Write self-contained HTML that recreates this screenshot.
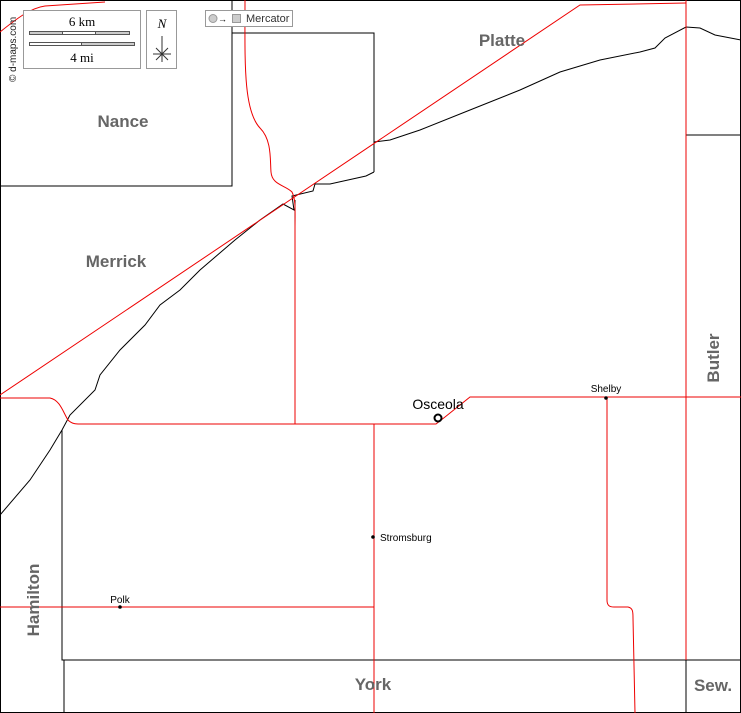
<!DOCTYPE html>
<html><head><meta charset="utf-8"><style>
body{margin:0;background:#fff}
svg{display:block;font-family:"Liberation Sans",sans-serif}
.l{font-weight:bold;fill:#666;font-size:17px;text-anchor:middle}
</style></head><body>
<svg width="741" height="713" viewBox="0 0 741 713">
<rect x="0.5" y="0.5" width="740" height="712" fill="#fff" stroke="#000"/>
<g fill="none" stroke="#000" stroke-width="1">
<polyline points="232,0 232,186 0,186"/>
<polyline points="232,33 374,33 374,172"/>
<polyline points="374,142 390,140 420,130 470,110 520,90 560,72 600,60 640,52 655,48 665,38 686,27 700,28 715,35 741,40"/>
<polyline points="374,172 366,176 330,184 315,184 313,191 292,196 294,210 283,204 260,220 235,240 200,270 180,290 160,305 145,325 120,350 100,375 95,390 70,415 62,430 50,450 30,480 0,515"/>
<polyline points="295,200 295,424"/>
<polyline points="62,430 62,660 741,660"/>
<polyline points="374,424 374,713"/>
<polyline points="64,660 64,713"/>
<polyline points="686,0 686,713"/>
<polyline points="686,135 741,135"/>
</g>
<g fill="none" stroke="#e00" stroke-width="1">
<polyline points="0,395 580,5 686,3"/>
<path d="M0,32 C15,20 30,8 45,6 L105,2"/>
<path d="M245,0 C245,60 243,110 260,128 C272,140 270,160 271,172 C272,185 285,185 292,192 C296,200 295,210 295,230 L295,424"/>
<path d="M0,398 L50,398 C60,400 63,412 68,420 C72,424 76,424 80,424 L436,424 L445,417 L470,397 L741,397"/>
<path d="M607,397 L607,600 C607,606 610,607 614,607 L628,607 C633,608 633,612 633,618 L635,713"/>
<polyline points="374,424 374,713"/>
<polyline points="0,607 374,607"/>
<polyline points="686,0 686,660"/>
</g>
<g stroke="#999" fill="#fff">
<rect x="23.5" y="10.5" width="117" height="58"/>
<rect x="146.5" y="10.5" width="30" height="58"/>
<rect x="205.5" y="10.5" width="87" height="16"/>
<rect x="29.5" y="31.5" width="100" height="3" fill="#ccc" stroke="#555"/>
<rect x="62.5" y="31.5" width="33" height="3" fill="#fff" stroke="#555"/>
<rect x="29.5" y="42.5" width="105" height="3" fill="#ccc" stroke="#555"/>
<rect x="29.5" y="42.5" width="52" height="3" fill="#fff" stroke="#555"/>
<circle cx="213" cy="18.5" r="4" fill="#ccc"/>
<rect x="232.5" y="14.5" width="8" height="8" fill="#ccc"/>
</g>
<text x="82" y="26" font-family="Liberation Serif" font-size="13" text-anchor="middle">6 km</text>
<text x="82" y="62" font-family="Liberation Serif" font-size="13" text-anchor="middle">4 mi</text>
<text x="162" y="28" font-family="Liberation Serif" font-style="italic" font-size="13" text-anchor="middle">N</text>
<g stroke="#333"><line x1="162" y1="36" x2="162" y2="62"/><line x1="153" y1="54" x2="171" y2="54"/><line x1="156" y1="48" x2="168" y2="60"/><line x1="168" y1="48" x2="156" y2="60"/></g>
<text x="218" y="22" font-size="9">→</text>
<text x="246" y="22" font-size="11" fill="#333">Mercator</text>
<text transform="translate(16,82) rotate(-90)" font-size="10" fill="#222">© d-maps.com</text>
<text class="l" x="123" y="127">Nance</text>
<text class="l" x="502" y="46">Platte</text>
<text class="l" x="116" y="267">Merrick</text>
<text class="l" x="373" y="690">York</text>
<text class="l" x="713" y="691">Sew.</text>
<text class="l" transform="translate(719,358) rotate(-90)">Butler</text>
<text class="l" transform="translate(39,600) rotate(-90)">Hamilton</text>
<circle cx="438" cy="418" r="3.5" fill="#fff" stroke="#000" stroke-width="2"/>
<text x="438" y="409" font-size="14" text-anchor="middle">Osceola</text>
<circle cx="606" cy="398" r="1.8"/><text x="606" y="392" font-size="10" text-anchor="middle">Shelby</text>
<circle cx="373" cy="537" r="1.8"/><text x="380" y="541" font-size="10">Stromsburg</text>
<circle cx="120" cy="607" r="1.8"/><text x="120" y="603" font-size="10" text-anchor="middle">Polk</text>
</svg>
</body></html>
